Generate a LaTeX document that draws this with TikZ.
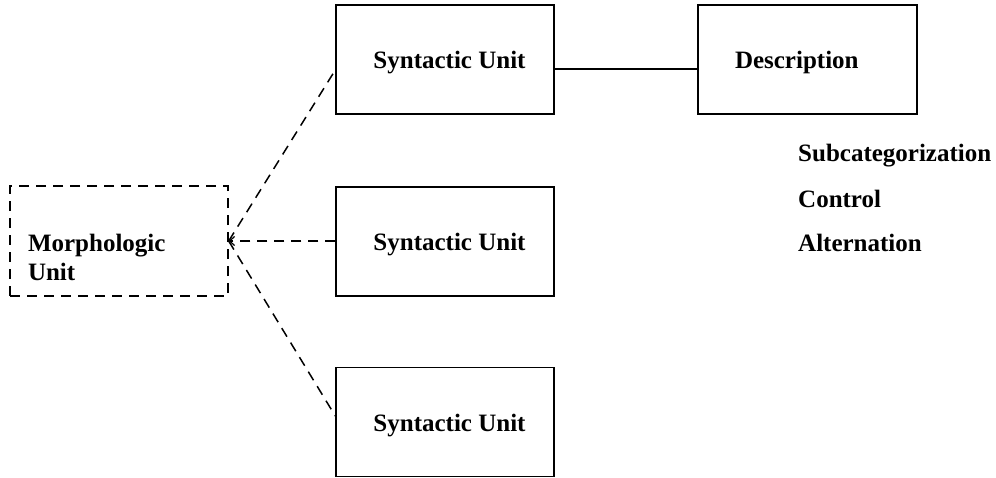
\documentclass[tikz,border=0pt]{standalone}
\usepackage{fontspec}
\setmainfont{Liberation Serif}
\usetikzlibrary{
  positioning,
  arrows.meta
}

\begin{document}
\begin{tikzpicture}[
  x=1pt, y=-1pt,
  every node/.style={font=\fontsize{25}{29}\selectfont\bfseries, inner sep=0pt},
  unit/.style={
    rectangle, draw, line width=1.4pt,
    minimum width=218pt, minimum height=109pt
  },
  morph/.style={
    rectangle, draw, line width=1.4pt, dash pattern=on 10pt off 7pt,
    text width=182pt, inner xsep=18pt, align=left,
    minimum height=110pt
  },
  descbox/.style={
    rectangle, draw, line width=1.4pt,
    text width=145pt, inner xsep=37pt, align=left,
    minimum height=109pt
  },
  feature/.style={anchor=west},
  link/.style={line width=1.5pt, dash pattern=on 10pt off 7pt},
  arrow/.style={link, -{Straight Barb[length=5pt, width=9pt, line width=1.2pt]}}
]
 \useasboundingbox (0,0) rectangle (996,477);

 % Left: morphologic unit
 \node[morph] (m) at (119,241) {\rule{0pt}{50pt}Morphologic\\Unit};

 % Three syntactic units
 \node[unit] (s1) at (445,59.5) {\rule{0pt}{24pt}\hspace{9pt}Syntactic Unit};
 \node[unit] (s2) at (445,241.5) {\rule{0pt}{24pt}\hspace{9pt}Syntactic Unit};
 \node[unit] (s3) at (445,422) {\rule{0pt}{24pt}\hspace{9pt}Syntactic Unit};

 % Description and its features
 \node[descbox] (d) at (807.5,59.5) {\rule{0pt}{24pt}Description};
 \node[feature] (f1) at (798,156) {Subcategorization};
 \node[feature] (f2) at (798,199) {Control};
 \node[feature] (f3) at (798,243) {Alternation};

 % Connectors
 \draw[link] (m.east) -- (s1.west |- 0,70);
 \draw[arrow] (s2.west |- m.east) -- (m.east);
 \draw[link] (m.east) -- (s3.west |- 0,416);
 \draw[line width=1.4pt] (s1.east |- 0,69) -- (d.west |- 0,69);
\end{tikzpicture}
\end{document}
